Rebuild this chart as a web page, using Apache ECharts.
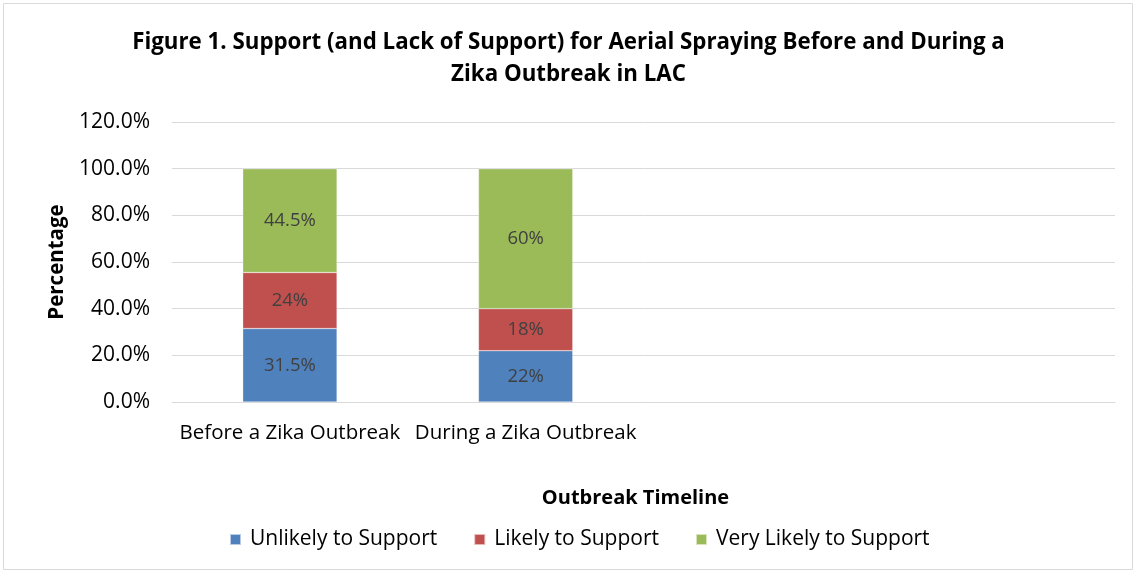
<!DOCTYPE html>
<html>
<head>
<meta charset="utf-8">
<script src="https://cdn.jsdelivr.net/npm/echarts@6/dist/echarts.min.js"></script>
<style>html,body{margin:0;padding:0;background:#fff}#c{width:1137px;height:574px}</style>
</head>
<body>
<div id="c"></div>
<script>
const categories = ['Before a Zika Outbreak', 'During a Zika Outbreak', '', ''];
const unlikely = [31.5, 22, null, null];
const likely = [24, 18, null, null];
const veryLikely = [44.5, 60, null, null];
const unlikelyLabels = ['31.5%', '22%', '', ''];
const likelyLabels = ['24%', '18%', '', ''];
const veryLikelyLabels = ['44.5%', '60%', '', ''];
const seriesNames = ['Unlikely to Support', 'Likely to Support', 'Very Likely to Support'];

const FONT = 'Open Sans';
const chart = echarts.init(document.getElementById('c'));
function mk(name, data, labels, color) {
  return {
    name, type: 'bar', stack: 'a', data, barWidth: '40%',
    itemStyle: { color, borderColor: 'rgba(255,255,255,0.6)', borderWidth: 0.5 },
    label: { show: true, position: 'inside', color: '#404040', fontSize: 18.5, fontFamily: FONT,
      formatter: p => labels[p.dataIndex] }
  };
}
chart.setOption({
  animation: false,
  textStyle: { fontFamily: FONT },
  title: {
    text: 'Figure 1. Support (and Lack of Support) for Aerial Spraying Before and During a\nZika Outbreak in LAC',
    left: 'center', top: 22,
    textStyle: { fontSize: 22.3, fontWeight: 'bold', color: '#000', lineHeight: 32, fontFamily: FONT }
  },
  graphic: [{ type: 'rect', shape: { x: 3.5, y: 3.5, width: 1129, height: 566 },
    style: { fill: 'none', stroke: '#d9d9d9', lineWidth: 1 } }],
  legend: {
    bottom: 19, left: 224, itemWidth: 11, itemHeight: 11, itemGap: 36,
    icon: 'rect',
    textStyle: { fontSize: 21, color: '#000', fontFamily: FONT, padding: [0, 0, 0, 4] },
    data: seriesNames
  },
  grid: { left: 172, right: 22, top: 122, bottom: 172 },
  xAxis: {
    type: 'category', data: categories,
    axisTick: { show: false },
    axisLine: { lineStyle: { color: '#d9d9d9' } },
    axisLabel: { fontSize: 20.5, color: '#000', margin: 21, interval: 0, fontFamily: FONT },
    name: 'Outbreak Timeline', nameLocation: 'middle', nameGap: 86,
    nameTextStyle: { fontSize: 20, fontWeight: 'bold', color: '#000', fontFamily: FONT, padding: [0, 16, 0, 0] }
  },
  yAxis: {
    type: 'value', min: 0, max: 120, interval: 20,
    axisLabel: { fontSize: 21, color: '#000', margin: 22, fontFamily: FONT, formatter: v => v.toFixed(1) + '%' },
    splitLine: { lineStyle: { color: '#d9d9d9', width: 1 } },
    axisLine: { show: false }, axisTick: { show: false },
    name: 'Percentage', nameLocation: 'middle', nameGap: 104, nameRotate: 90,
    nameTextStyle: { fontSize: 20.5, fontWeight: 'bold', color: '#000', fontFamily: FONT }
  },
  series: [
    mk(seriesNames[0], unlikely, unlikelyLabels, '#4f81bd'),
    mk(seriesNames[1], likely, likelyLabels, '#c0504d'),
    mk(seriesNames[2], veryLikely, veryLikelyLabels, '#9bbb59')
  ]
});
</script>
</body>
</html>
